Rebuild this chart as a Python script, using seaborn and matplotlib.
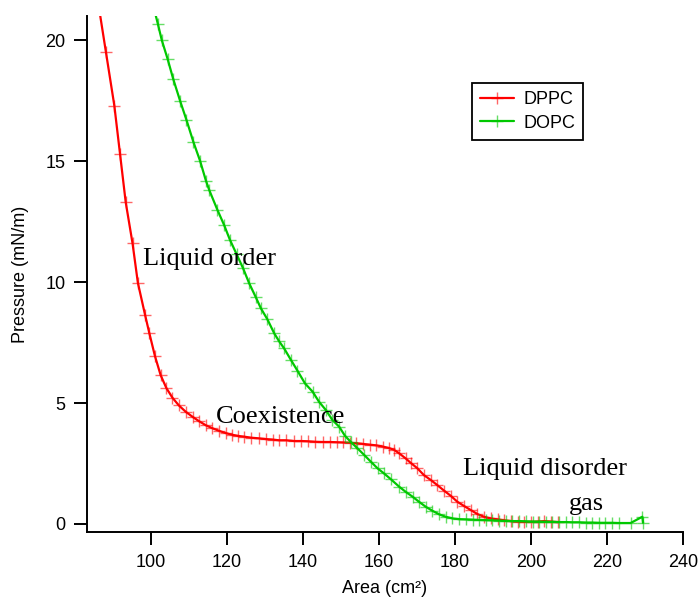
import numpy as np
import pandas as pd
import matplotlib
matplotlib.use('Agg')
import matplotlib.pyplot as plt
import seaborn as sns

# ── Data ──────────────────────────────────────────────────────────
dppc_area = [86.2, 88.1, 90.3, 91.8, 93.3, 95.1, 96.5, 98.4, 99.5, 101.0,
             102.5, 104.0, 105.6, 107.3, 109.1, 110.9, 112.6, 114.4, 116.1, 117.9,
             119.6, 121.3, 122.9, 124.5, 126.2, 128.4, 130.2, 132.0, 133.7, 135.5,
             137.7, 139.5, 141.2, 143.0, 145.2, 147.0, 148.8, 150.5, 152.3, 154.0,
             155.8, 157.5, 159.3, 161.0, 162.6, 163.9, 165.3, 167.0, 168.3, 170.1,
             171.8, 173.6, 175.3, 177.1, 178.9, 180.6, 182.4, 184.1, 185.9, 187.6,
             189.4, 191.2, 193.0, 194.7, 196.5, 198.2, 200.0, 201.7, 203.5, 205.2,
             207.0]
dppc_pressure = [21.4, 19.5, 17.3, 15.3, 13.3, 11.6, 9.97, 8.64, 7.9, 6.94,
                 6.15, 5.62, 5.22, 4.90, 4.64, 4.43, 4.25, 4.08, 3.96, 3.85,
                 3.76, 3.69, 3.64, 3.61, 3.57, 3.54, 3.51, 3.49, 3.46, 3.46,
                 3.43, 3.43, 3.42, 3.40, 3.39, 3.39, 3.38, 3.37, 3.36, 3.34,
                 3.31, 3.28, 3.25, 3.20, 3.14, 3.07, 2.92, 2.71, 2.53, 2.30,
                 2.02, 1.82, 1.61, 1.38, 1.16, 0.92, 0.74, 0.58, 0.41, 0.30,
                 0.23, 0.19, 0.15, 0.12, 0.10, 0.09, 0.09, 0.10, 0.12, 0.10,
                 0.08]

dopc_area = [100.6, 101.8, 102.8, 104.3, 105.8, 107.6, 109.3, 111.1, 112.9, 114.4,
             115.3, 117.4, 119.2, 120.7, 122.5, 124.2, 125.8, 127.5, 128.9, 130.6,
             132.4, 133.7, 135.0, 136.8, 138.5, 140.5, 142.5, 144.2, 146.0, 147.7,
             149.5, 151.0, 152.5, 154.3, 156.1, 157.8, 159.6, 161.3, 163.1, 165.3,
             167.0, 168.8, 170.5, 172.3, 174.0, 175.8, 177.5, 179.3, 181.0, 182.8,
             184.6, 186.3, 188.1, 189.8, 191.6, 193.3, 195.1, 196.9, 198.6, 200.4,
             202.1, 203.9, 205.6, 207.4, 209.1, 210.9, 212.6, 214.4, 216.1, 217.9,
             219.6, 221.4, 223.2, 226.2, 229.3, 229.5]
dopc_pressure = [21.4, 20.65, 20.0, 19.24, 18.4, 17.5, 16.7, 15.8, 15.0, 14.2,
                 13.8, 13.0, 12.36, 11.76, 11.15, 10.57, 9.95, 9.39, 8.91, 8.46,
                 7.88, 7.55, 7.26, 6.78, 6.34, 5.81, 5.47, 5.05, 4.71, 4.30,
                 4.02, 3.65, 3.40, 3.13, 2.85, 2.58, 2.30, 2.09, 1.85, 1.54,
                 1.33, 1.13, 0.92, 0.71, 0.55, 0.40, 0.30, 0.23, 0.20, 0.19,
                 0.18, 0.17, 0.16, 0.15, 0.14, 0.13, 0.12, 0.12, 0.11, 0.10,
                 0.10, 0.09, 0.09, 0.08, 0.08, 0.07, 0.07, 0.06, 0.06, 0.05,
                 0.05, 0.05, 0.04, 0.04, 0.30, 0.05]

phase_labels = ['Liquid order', 'Coexistence', 'Liquid disorder', 'gas']
phase_x = [97.9, 117.1, 182.1, 210.0]
phase_y = [10.70, 4.16, 2.02, 0.58]

RED = '#ff0000'
GREEN = '#00c800'

sns.set_style('ticks')
plt.rcParams['font.family'] = ['Liberation Sans', 'DejaVu Sans']

fig = plt.figure(figsize=(6.98, 5.98), dpi=100)
ax = fig.add_axes([0.1246, 0.1104, 0.8539, 0.8628])

dppc = pd.DataFrame({'area': dppc_area, 'pressure': dppc_pressure})
dopc = pd.DataFrame({'area': dopc_area, 'pressure': dopc_pressure})

for df, col, name in [(dppc, RED, 'DPPC'), (dopc, GREEN, 'DOPC')]:
    sns.lineplot(data=df, x='area', y='pressure', ax=ax, sort=False,
                 estimator=None, color=col, linewidth=1.6, label=name,
                 marker='+', markersize=9, markeredgewidth=1.0,
                 markeredgecolor=matplotlib.colors.to_rgba(col, 0.6))

for txt, x, y in zip(phase_labels, phase_x, phase_y):
    ax.text(x, y, txt, fontsize=19, family=['Liberation Serif', 'DejaVu Serif'],
            ha='left', va='baseline', color='black')

ax.set_xlim(83.1, 240)
ax.set_ylim(-0.33, 21.0)
ax.set_xticks([100, 120, 140, 160, 180, 200, 220, 240])
ax.set_yticks([0, 5, 10, 15, 20])
ax.tick_params(axis='both', direction='out', length=9.5, width=1.4,
               labelsize=13, colors='black', pad=6)
for side in ['top', 'right']:
    ax.spines[side].set_visible(False)
for side in ['left', 'bottom']:
    ax.spines[side].set_linewidth(1.4)
    ax.spines[side].set_color('black')

ax.set_xlabel('Area (cm²)', fontsize=13, labelpad=7, color='black')
ax.set_ylabel('Pressure (mN/m)', fontsize=13, labelpad=12, color='black')

leg = ax.legend(loc='upper left', bbox_to_anchor=(0.646, 0.870),
                borderaxespad=0, fontsize=13, handlelength=1.9,
                numpoints=1, fancybox=False, framealpha=1,
                edgecolor='black', borderpad=0.45, labelspacing=0.35,
                handletextpad=0.5)
leg.get_frame().set_linewidth(1.3)
for t in leg.get_texts():
    t.set_color('black')

fig.savefig('out.png', dpi=100)
